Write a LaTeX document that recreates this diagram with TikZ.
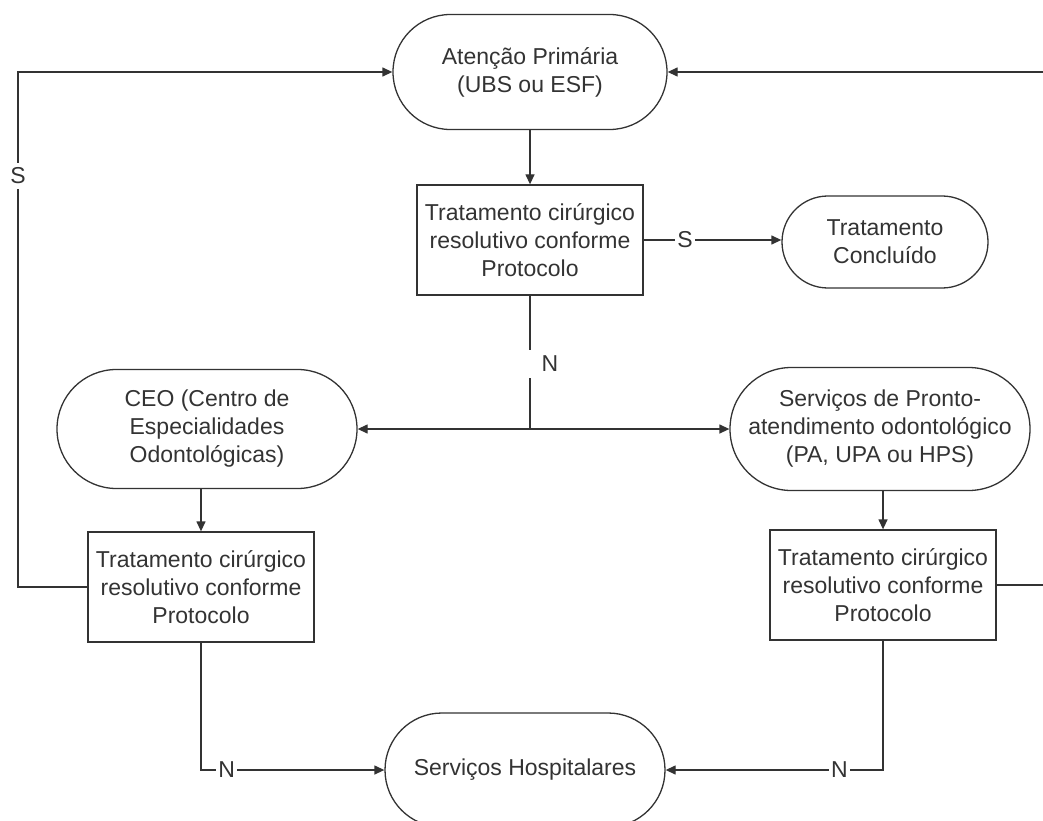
\documentclass[tikz,border=0pt]{standalone}
\usepackage{fontspec}
\setmainfont{Liberation Sans}
\usetikzlibrary{arrows.meta}
\begin{document}
\begin{tikzpicture}[x=1pt,y=-1pt,
  every node/.style={font=\fontsize{23}{28}\selectfont, text=black!80},
  term/.style={draw=black!80, line width=1.3pt, rectangle, align=center, inner sep=0pt, rounded corners=#1},
  procbox/.style={draw=black!80, line width=1.3pt, rectangle, align=center, minimum width=226pt, minimum height=110pt, inner sep=0pt},
  conn/.style={draw=black!80, line width=1.3pt},
  arr/.style={conn, -{Triangle[length=10pt,width=9pt]}},
  lbl/.style={fill=white, inner xsep=2pt, inner ysep=5pt}]
\useasboundingbox (0,0) rectangle (1043,821);
% nodes
\node[term=57.4pt, minimum width=274pt, minimum height=115pt] (ap) at (530,72) {Atenção Primária\\(UBS ou ESF)};
\node[procbox] (b1) at (530,240) {Tratamento cirúrgico\\resolutivo conforme\\Protocolo};
\node[term=45.9pt, minimum width=206pt, minimum height=92pt] (tc) at (885,242) {Tratamento\\Concluído};
\node[term=59.4pt, minimum width=300pt, minimum height=119pt] (ceo) at (207,429) {CEO (Centro de\\Especialidades\\Odontológicas)};
\node[term=61.4pt, minimum width=300pt, minimum height=123pt] (pr) at (880,429) {Serviços de Pronto-\\atendimento odontológico\\(PA, UPA ou HPS)};
\node[procbox] (b2) at (201,587) {Tratamento cirúrgico\\resolutivo conforme\\Protocolo};
\node[procbox] (b3) at (883,585) {Tratamento cirúrgico\\resolutivo conforme\\Protocolo};
\node[term=56.9pt, minimum width=280pt, minimum height=114pt] (hosp) at (525,770) {Serviços Hospitalares};
% coordinates
\coordinate (split) at (530,429);
\coordinate (nt) at (530,350);
\coordinate (nb) at (530,378);
\coordinate (lc1) at (18,587);
\coordinate (lc2) at (18,72);
\coordinate (re1) at (1043,72);
\coordinate (re2) at (1043,585);
% connectors
\draw[arr] (ap) -- (b1);
\draw[arr] (b1.east) -- node[lbl, pos=0.3] (sT) {S} (tc.west |- b1.east);
\draw[conn] (b1.south) -- (nt);
\node (nM) at (550,364) {N};
\draw[conn] (nb) -- (split);
\draw[arr] (split) -- (ceo.east);
\draw[arr] (split) -- (pr.west);
\draw[arr] (b2 |- ceo.south) -- (b2.north);
\draw[arr] (b3 |- pr.south) -- (b3.north);
\draw[arr] (b2.west) -- (lc1) -- (lc2) -- (ap.west);
\node[lbl] (sL) at (18,176) {S};
\draw[arr] (re1) -- (ap.east);
\draw[conn] (b3.east) -- (re2);
\draw[arr] (b2.south) |- node[lbl, pos=0.57] (nL) {N} (hosp.west);
\draw[arr] (b3.south) |- node[lbl, pos=0.60] (nR) {N} (hosp.east);
\end{tikzpicture}
\end{document}
